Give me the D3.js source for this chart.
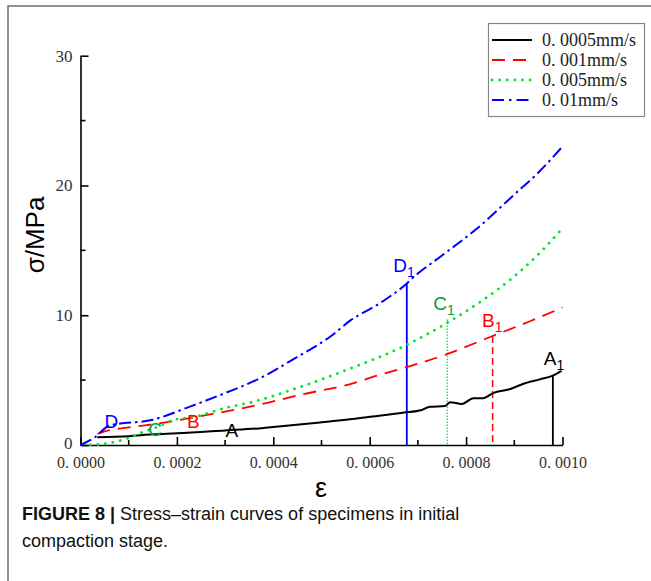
<!DOCTYPE html>
<html>
<head>
<meta charset="utf-8">
<script src="https://cdn.jsdelivr.net/npm/d3@7"></script>
<style>
  body { margin: 0; background: #fff; }
  svg { display: block; }
</style>
</head>
<body>
<script>
// 0.0005 mm/s (A)
const strainA = [0.000035, 0.0001, 0.00015, 0.0002, 0.0003, 0.00037, 0.0004, 0.0005, 0.000559, 0.000601, 0.000669, 0.000708, 0.000725, 0.000756, 0.000767, 0.000791, 0.000815, 0.000835, 0.000856, 0.00089, 0.000918, 0.000953, 0.000981, 0.000998];
const stressA = [0.6, 0.68, 0.82, 0.9, 1.12, 1.28, 1.38, 1.75, 1.98, 2.18, 2.49, 2.7, 2.95, 3.0, 3.3, 3.16, 3.6, 3.6, 4.0, 4.3, 4.7, 5.06, 5.37, 5.72];
// 0.001 mm/s (B)
const strainB = [0.000035, 0.00005, 0.0001, 0.00017, 0.00026, 0.00037, 0.00046, 0.00056, 0.00062, 0.000677, 0.00076, 0.000855, 0.00093, 0.001];
const stressB = [0.85, 1.05, 1.35, 1.7, 2.3, 3.1, 3.9, 4.7, 5.4, 6.0, 7.0, 8.4, 9.5, 10.6];
// 0.005 mm/s (C)
const strainC = [0.00002, 0.00006, 0.0001, 0.00013, 0.00016, 0.00019, 0.00024, 0.0003, 0.00036, 0.00045, 0.00056, 0.00067, 0.00076, 0.00084, 0.0009, 0.00095, 0.001];
const stressC = [0, 0.15, 0.55, 1.0, 1.4, 1.9, 2.2, 2.85, 3.35, 4.4, 5.9, 7.6, 9.4, 11.3, 13.0, 14.7, 16.7];
// 0.01 mm/s (D)
const strainD = [0, 0.00003, 0.00006, 0.00015, 0.00023, 0.0003, 0.00037, 0.00045, 0.00052, 0.00056, 0.00062, 0.000677, 0.00069, 0.00075, 0.00082, 0.0009, 0.00095, 0.001];
const stressD = [0, 0.6, 1.5, 1.95, 3.0, 4.0, 5.1, 6.8, 8.4, 9.6, 10.9, 12.45, 12.9, 14.6, 16.6, 19.3, 21.0, 23.0];

const legendLabels = ['0. 0005mm/s', '0. 001mm/s', '0. 005mm/s', '0. 01mm/s'];
const colors = ['#000000', '#ff0000', '#00e626', '#0000ff'];
const dashes = [null, '13,8', '0.1,7.5', '12,4,2.5,4'];

// end points A1..D1 (vertical drop lines)
const endStrain = [0.00098, 0.000855, 0.000761, 0.000677];
const endStress = [5.37, 8.4, 9.68, 12.45];
const endLabels = ['A', 'B', 'C', 'D'];
const endLabelStrain = [0.000961, 0.000833, 0.000732, 0.000649];
const endLabelStress = [6.16, 9.13, 10.4, 13.37];
const labelColors = ['#000', '#ff0000', '#00a03c', '#0000ff'];

// start labels A..D
const startLabelStrain = [0.000314, 0.000234, 0.000155, 0.000064];
const startLabelStress = [0.65, 1.3, 0.73, 1.3];

const xTicks = [0, 0.0002, 0.0004, 0.0006, 0.0008, 0.001];
const xMinor = [0.0001, 0.0003, 0.0005, 0.0007, 0.0009];
const yTicks = [0, 10, 20, 30];
const yMinor = [5, 15, 25];

const series = [
  {x: strainA, y: stressA},
  {x: strainB, y: stressB},
  {x: strainC, y: stressC},
  {x: strainD, y: stressD}
];

const width = 651, height = 581;
const svg = d3.select('body').append('svg')
  .attr('width', width)
  .attr('height', height);

// outer frame (cut off at right/bottom)
svg.append('rect')
  .attr('x', 8).attr('y', 6)
  .attr('width', 700).attr('height', 700)
  .attr('fill', 'none')
  .attr('stroke', '#6e6e6e')
  .attr('stroke-width', 1.5);

const xScale = d3.scaleLinear().domain([0, 0.001]).range([80.5, 562.5]);
const yScale = d3.scaleLinear().domain([0, 30]).range([445, 55.7]);

const serif = '"Liberation Serif", "DejaVu Serif", serif';
const sans = '"Liberation Sans", Arial, sans-serif';

// axes
const xAxis = d3.axisBottom(xScale)
  .tickValues(xTicks)
  .tickSizeInner(-8)
  .tickSizeOuter(0)
  .tickPadding(12)
  .tickFormat(d => d3.format('.4f')(d).replace('.', '. '));

const gx = svg.append('g')
  .attr('transform', 'translate(0,' + yScale(0) + ')')
  .call(xAxis);
gx.selectAll('line, path').attr('stroke', '#000').attr('stroke-width', 1.6);
gx.selectAll('text').style('font-family', serif).style('font-size', '16px').attr('fill', '#333');

gx.selectAll('.minor')
  .data(xMinor)
  .enter()
  .append('line')
  .attr('class', 'minor')
  .attr('x1', d => xScale(d)).attr('x2', d => xScale(d))
  .attr('y1', 0).attr('y2', -5)
  .attr('stroke', '#000').attr('stroke-width', 1.6);

const yAxis = d3.axisLeft(yScale)
  .tickValues(yTicks)
  .tickSizeInner(-8)
  .tickSizeOuter(0)
  .tickPadding(8);

const gy = svg.append('g')
  .attr('transform', 'translate(' + xScale(0) + ',0)')
  .call(yAxis);
gy.selectAll('line, path').attr('stroke', '#000').attr('stroke-width', 1.6);
gy.selectAll('text').style('font-family', serif).style('font-size', '17px').attr('fill', '#333')
  .attr('dy', d => d == 0 ? '0.22em' : '0.32em');

gy.selectAll('.minor')
  .data(yMinor)
  .enter()
  .append('line')
  .attr('class', 'minor')
  .attr('x1', 0).attr('x2', 5)
  .attr('y1', d => yScale(d)).attr('y2', d => yScale(d))
  .attr('stroke', '#000').attr('stroke-width', 1.6);

// axis titles
svg.append('text')
  .attr('transform', 'translate(44,235) rotate(-90)')
  .attr('text-anchor', 'middle')
  .style('font-family', sans)
  .style('font-size', '26px')
  .text('σ/MPa');

svg.append('text')
  .attr('x', 321).attr('y', 497)
  .attr('text-anchor', 'middle')
  .style('font-family', sans)
  .style('font-size', '27px')
  .text('ε');

// drop lines
const dropDash = [null, '7,4', '1.5,1.5', null];
const dropWidth = [1.8, 1.5, 1.2, 1.8];
svg.selectAll('.drop')
  .data(endStrain)
  .enter()
  .append('line')
  .attr('class', 'drop')
  .attr('x1', d => xScale(d)).attr('x2', d => xScale(d))
  .attr('y1', (d, i) => yScale(endStress[i]))
  .attr('y2', yScale(0))
  .attr('stroke', (d, i) => colors[i])
  .attr('stroke-width', (d, i) => dropWidth[i])
  .attr('stroke-dasharray', (d, i) => dropDash[i]);

// curves
const line = d3.line()
  .x(d => xScale(d[0]))
  .y(d => yScale(d[1]))
  .curve(d3.curveMonotoneX);

const curveWidth = [2, 1.8, 2.8, 2];
svg.selectAll('.curve')
  .data(series)
  .enter()
  .append('path')
  .attr('class', 'curve')
  .attr('d', s => line(s.x.map((v, i) => [v, s.y[i]])))
  .attr('fill', 'none')
  .attr('stroke', (d, i) => colors[i])
  .attr('stroke-width', (d, i) => curveWidth[i])
  .attr('stroke-linecap', (d, i) => i == 2 ? 'round' : 'butt')
  .attr('stroke-dasharray', (d, i) => dashes[i]);

// start labels
svg.selectAll('.startLabel')
  .data(endLabels)
  .enter()
  .append('text')
  .attr('class', 'startLabel')
  .attr('x', (d, i) => xScale(startLabelStrain[i]))
  .attr('y', (d, i) => yScale(startLabelStress[i]))
  .attr('text-anchor', 'middle')
  .style('font-family', sans)
  .style('font-size', '19px')
  .attr('fill', (d, i) => labelColors[i])
  .text(d => d);

// end labels with subscript 1
const endText = svg.selectAll('.endLabel')
  .data(endLabels)
  .enter()
  .append('text')
  .attr('class', 'endLabel')
  .attr('x', (d, i) => xScale(endLabelStrain[i]))
  .attr('y', (d, i) => yScale(endLabelStress[i]))
  .style('font-family', sans)
  .style('font-size', '19px')
  .attr('fill', (d, i) => labelColors[i]);
endText.append('tspan').text(d => d);
endText.append('tspan').attr('dy', 5).style('font-size', '14px').text('1');

// legend
const legend = svg.append('g');
legend.append('rect')
  .attr('x', 488.5).attr('y', 23.5)
  .attr('width', 156).attr('height', 93)
  .attr('fill', '#fff')
  .attr('stroke', '#888')
  .attr('stroke-width', 1.2);

const legendRow = d3.scaleLinear().domain([0, 3]).range([40, 100]);
legendLabels.forEach((label, i) => {
  legend.append('line')
    .attr('x1', 492).attr('x2', 532)
    .attr('y1', legendRow(i)).attr('y2', legendRow(i))
    .attr('stroke', colors[i])
    .attr('stroke-width', i == 2 ? 2.8 : 2)
    .attr('stroke-linecap', i == 2 ? 'round' : 'butt')
    .attr('stroke-dasharray', i == 3 ? '12,5,2.5,5' : dashes[i]);
  legend.append('text')
    .attr('x', 542).attr('y', legendRow(i) + 6)
    .style('font-family', serif)
    .style('font-size', '18px')
    .attr('fill', '#222')
    .text(label);
});

// caption
const caption = svg.append('text')
  .attr('x', 22).attr('y', 520)
  .style('font-family', sans)
  .style('font-size', '18px')
  .attr('fill', '#111');
caption.append('tspan').style('font-weight', 'bold').text('FIGURE 8 | ');
caption.append('tspan').text('Stress–strain curves of specimens in initial');
svg.append('text')
  .attr('x', 22).attr('y', 547)
  .style('font-family', sans)
  .style('font-size', '18px')
  .attr('fill', '#111')
  .text('compaction stage.');
</script>
</body>
</html>
